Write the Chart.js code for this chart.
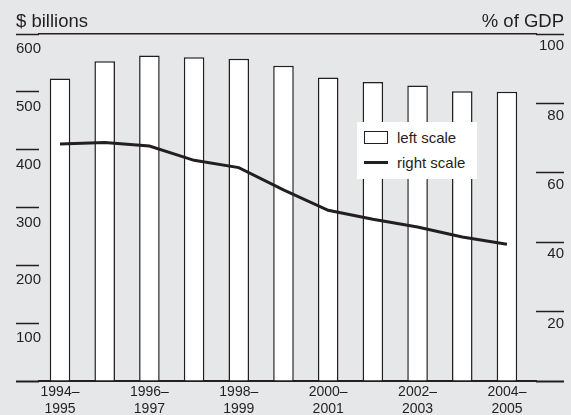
<!DOCTYPE html>
<html>
<head>
<meta charset="utf-8">
<script src="https://cdn.jsdelivr.net/npm/chart.js@4.4.1/dist/chart.umd.min.js"></script>
<style>
  html, body { margin: 0; padding: 0; background: #e6e7e8; }
  #wrap { position: relative; width: 571px; height: 415px; background: #e6e7e8; }
  #legend {
    position: absolute; left: 357px; top: 122px; width: 120px; height: 57px;
    background: #fff; color: #231f20;
    font: 15px "Liberation Sans", Arial, sans-serif;
  }
  #legend .item { position: absolute; left: 7px; height: 20px; line-height: 20px; white-space: nowrap; }
  #legend .swatch { position: absolute; left: 0; }
  #legend .box { top: 3px; width: 22px; height: 11px; border: 1.5px solid #231f20; background: #fff; }
  #legend .line { top: 8px; width: 24px; height: 3px; background: #231f20; }
  #legend .label { position: absolute; left: 33px; top: 0; }
</style>
</head>
<body>
<div id="wrap">
  <canvas id="chart" width="571" height="415"></canvas>
  <div id="legend"></div>
</div>
<script>
// fiscal years, one bar each
const years = ['1994–1995', '1995–1996', '1996–1997', '1997–1998', '1998–1999', '1999–2000',
  '2000–2001', '2001–2002', '2002–2003', '2003–2004', '2004–2005'];
// left scale, $ billions
const billions = [523, 553, 563, 560, 557, 545, 525, 517, 511, 501, 500];
// right scale, % of GDP
const pctGdp = [68.3, 68.7, 67.7, 63.6, 61.5, 55.1, 49.2, 46.6, 44.4, 41.5, 39.4];
const seriesNames = ['left scale', 'right scale'];
const axisUnits = ['$ billions', '% of GDP'];

const ink = '#231f20';
const font = '"Liberation Sans", Arial, sans-serif';

// unit captions above each axis
const unitTitles = {
  id: 'unitTitles',
  afterDraw(chart) {
    const { ctx, scales } = chart;
    ctx.save();
    ctx.font = '18.5px ' + font;
    ctx.fillStyle = ink;
    ctx.textBaseline = 'alphabetic';
    ctx.textAlign = 'left';
    ctx.fillText(axisUnits[0], scales.y.left, 27);
    ctx.textAlign = 'right';
    ctx.fillText(axisUnits[1], scales.y1.right, 27);
    ctx.restore();
  }
};

// fixed axis width, and no extra room asked for the end labels
const fixWidth = (w) => (s) => {
  s.width = w;
  s.paddingTop = 0;
  s.paddingBottom = 0;
};

const chart = new Chart(document.getElementById('chart'), {
  type: 'bar',
  data: {
    datasets: [
      {
        type: 'line',
        label: seriesNames[1],
        data: pctGdp.map((v, i) => ({ x: i, y: v })),
        xAxisID: 'x',
        yAxisID: 'y1',
        borderColor: ink,
        borderWidth: 3,
        pointRadius: 0,
        tension: 0,
        order: 0
      },
      {
        label: seriesNames[0],
        data: billions.map((v, i) => ({ x: i, y: v })),
        xAxisID: 'x',
        yAxisID: 'y',
        backgroundColor: '#ffffff',
        borderColor: ink,
        borderWidth: 1.5,
        categoryPercentage: 1,
        barPercentage: 0.46,
        order: 1
      }
    ]
  },
  options: {
    responsive: false,
    animation: false,
    devicePixelRatio: 1,
    layout: { padding: { top: 34, left: 16, right: 7, bottom: 0 } },
    plugins: {
      legend: { display: false },
      tooltip: { enabled: false }
    },
    scales: {
      x: {
        type: 'linear',
        position: 'bottom',
        min: -0.47,
        max: 10.65,
        offset: false,
        grid: { display: false, drawTicks: false, offset: false },
        border: { display: true, color: ink, width: 2 },
        ticks: {
          stepSize: 2,
          includeBounds: false,
          autoSkip: false,
          maxRotation: 0,
          padding: 3,
          color: ink,
          font: { family: font, size: 14, lineHeight: 1.2 },
          callback: (v) => {
            const y = years[v];
            return y ? [y.slice(0, 5), y.slice(5)] : '';
          }
        },
        afterFit: (s) => { s.height = 34; }
      },
      xTop: {
        type: 'linear',
        axis: 'x',
        position: 'top',
        grid: { display: false, drawTicks: false },
        border: { display: true, color: ink, width: 1.5 },
        ticks: { display: false }
      },
      y: {
        position: 'left',
        min: 0,
        max: 600,
        grid: {
          drawOnChartArea: false,
          drawTicks: true,
          tickLength: 23,
          tickColor: ink,
          tickWidth: (c) => (c.tick && c.tick.value === 0 ? 2 : 1.5)
        },
        border: { display: false },
        ticks: {
          stepSize: 100,
          mirror: true,
          padding: -23,
          labelOffset: 15,
          color: ink,
          font: { family: font, size: 15 },
          callback: (v) => (v === 0 ? '' : v)
        },
        afterFit: fixWidth(23)
      },
      y1: {
        position: 'right',
        min: 0,
        max: 100,
        grid: {
          drawOnChartArea: false,
          drawTicks: true,
          tickLength: 28,
          tickColor: ink,
          tickWidth: (c) => (c.tick && c.tick.value === 0 ? 2 : 1.5)
        },
        border: { display: false },
        ticks: {
          stepSize: 20,
          mirror: true,
          padding: 28,
          labelOffset: 12,
          color: ink,
          font: { family: font, size: 15 },
          callback: (v) => (v === 0 ? '' : v)
        },
        afterFit: fixWidth(28)
      }
    }
  },
  plugins: [unitTitles]
});

// legend box inside the plot
const legend = document.getElementById('legend');
[[seriesNames[0], 'box', 6], [seriesNames[1], 'line', 31]].forEach(([name, kind, top]) => {
  const item = document.createElement('div');
  item.className = 'item';
  item.style.top = top + 'px';
  item.innerHTML = '<span class="swatch ' + kind + '"></span><span class="label"></span>';
  item.querySelector('.label').textContent = name;
  legend.appendChild(item);
});
</script>
</body>
</html>
